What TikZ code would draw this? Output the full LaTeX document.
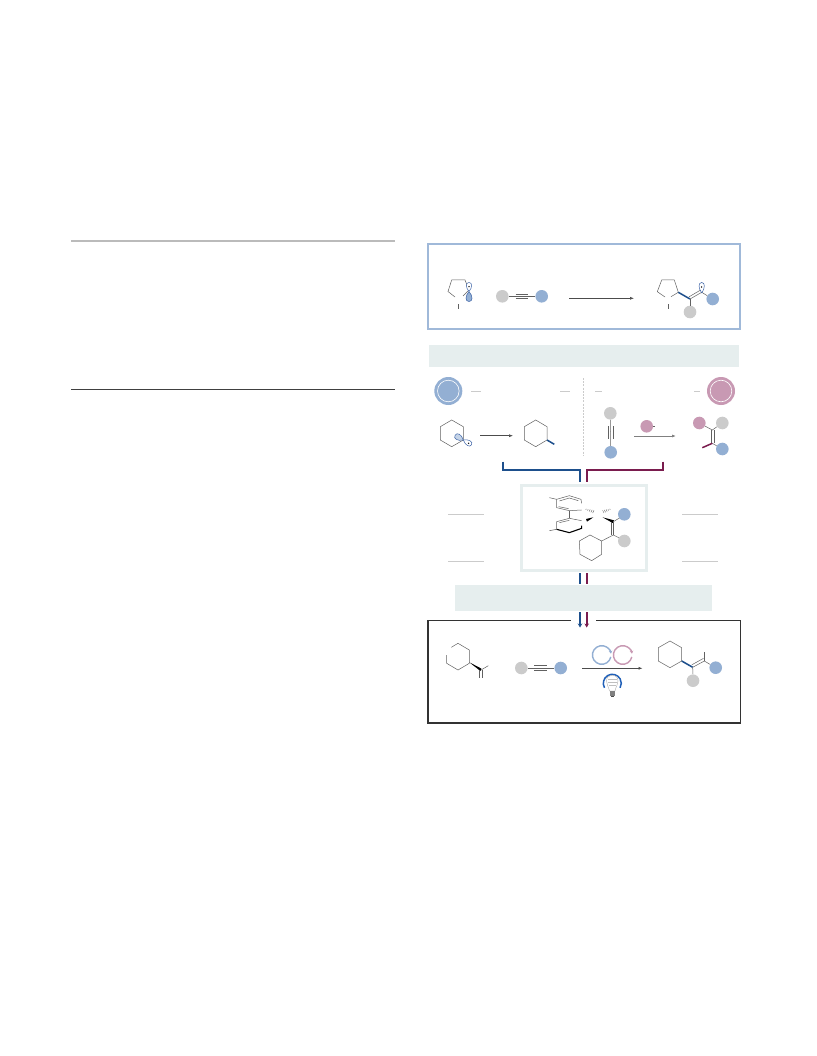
\documentclass[tikz,border=0pt]{standalone}
\usetikzlibrary{arrows.meta,calc}
\definecolor{bluec}{HTML}{93AFD3}
\definecolor{greyc}{HTML}{CBCBCB}
\definecolor{pinkc}{HTML}{C899B3}
\definecolor{bandc}{HTML}{E6EEEE}
\definecolor{navy}{HTML}{1D4F8C}
\definecolor{wine}{HTML}{7A1C4E}
\definecolor{boxblue}{HTML}{A0B9D9}
\definecolor{orb}{HTML}{3F65A8}
\definecolor{rule}{HTML}{BBBBBB}
\definecolor{bulbblue}{HTML}{2060B8}
\tikzset{
  sub/.style={circle,inner sep=0pt,minimum size=12.6pt,draw=none},
  gsub/.style={sub,fill=greyc},
  bsub/.style={sub,fill=bluec},
  psub/.style={sub,fill=pinkc},
  bondl/.style={draw=black!62,line width=.5pt},
  boldblue/.style={draw=navy,line width=1.5pt},
  boldwine/.style={draw=wine,line width=1.5pt},
  rxn/.style={draw=black!70,line width=.6pt,-{Latex[length=4pt,width=3pt]}},
  brk/.style={line width=1.7pt,line cap=butt,line join=miter},
  dashrule/.style={draw=greyc,line width=.9pt},
  catal/.style={circle,inner sep=0pt,minimum size=28pt,draw=none},
  orbfill/.style={draw=orb,fill=bluec,line width=.5pt},
  orbopen/.style={draw=orb,fill=white,line width=.5pt}
}
\newcommand{\lobe}[6]{\path[#6,shift={(#1,#2)},rotate=#3] (0,0) .. controls ({#4*.45},{-#5}) and (#4,{-#5}) .. (#4,0) .. controls (#4,#5) and ({#4*.45},#5) .. (0,0);}
\newcommand{\sdot}[2]{\fill[black] (#1,#2) circle[radius=.75];}
\begin{document}
\begin{tikzpicture}[x=1pt,y=-1pt]
\useasboundingbox (0,0) rectangle (816,1056);
\fill[white] (0,0) rectangle (816,1056);
% left column rules
\draw[rule,line width=1.5pt] (71,241) -- (395,241);
\draw[black!75,line width=1pt] (71,389.5) -- (395,389.5);
% top box
\draw[boxblue,line width=1.8pt] (428,244.3) rectangle (740,329);
\draw[bondl] (455,297) -- (448,291.5) -- (451.7,280) -- (465,280) -- (469,290) -- (463,296);
\draw[bondl] (458.3,304) -- (458.3,309);
\lobe{469}{291.5}{90}{9}{3.5}{orbopen}
\lobe{469}{291.5}{-90}{10}{4}{orbfill}
\sdot{469}{286.7}
\node[gsub] (a1) at (502.3,296.3) {};
\node[bsub] (a2) at (541.7,296.3) {};
\draw[bondl] (a1) -- (a2);
\draw[bondl] (515.7,294) -- (528.3,294) (515.7,298.6) -- (528.3,298.6);
\coordinate (r1s) at (569,298.3); \coordinate (r1e) at (634,298.3);
\draw[rxn] (r1s) -- (r1e);
\draw[bondl] (665,297) -- (657.3,291.7) -- (661.7,280) -- (674.3,280) -- (678.3,292.3) -- (671,296.7);
\draw[bondl] (668,304) -- (668,309);
\draw[boldblue] (678.3,292.3) -- (690,299);
\node[gsub] (p1) at (690,312) {};
\node[bsub] (p2) at (712.7,299) {};
\draw[bondl] (690,299) -- (p1);
\draw[bondl] (690,299) -- (701.7,292.3) (689,296.8) -- (700.7,290);
\draw[bondl] (701.7,292.3) -- (p2);
\lobe{701.7}{293}{90}{10.5}{3.5}{draw=orb,fill=none,line width=.5pt}
\sdot{701.7}{287}
% band 1
\fill[bandc] (429,344.7) rectangle (739,366.7);
% catalysts
\node[catal,fill=bluec] (c1) at (448.3,391) {};
\draw[white,line width=.6pt] (c1) circle[radius=10.8];
\node[catal,fill=pinkc] (c2) at (721,391) {};
\draw[white,line width=.6pt] (c2) circle[radius=10.8];
\draw[dashrule] (471,391) -- (481,391) (560.3,391) -- (570,391) (595.3,391) -- (602,391) (694,391) -- (700,391);
\draw[greyc,line width=.7pt,dash pattern=on 2pt off 1.2pt] (583.3,378) -- (583.3,455);
% radical left
\draw[bondl] (451.7,420) -- (463.3,426.7) -- (463.3,440) -- (451.7,446.7) -- (440.3,440) -- (440.3,426.7) -- cycle;
\lobe{463.3}{440}{150}{9.5}{4}{draw=orb,fill=bluec!55,line width=.5pt}
\lobe{463.3}{440}{-30}{9.5}{3.6}{draw=orb,fill=white,line width=.5pt}
\sdot{468.6}{443.3}
\coordinate (r2s) at (480,435.7); \coordinate (r2e) at (513,435.7);
\draw[rxn] (r2s) -- (r2e);
\draw[bondl] (535.7,420) -- (547,426.7) -- (547,440) -- (535.7,446.7) -- (524.3,440) -- (524.3,426.7) -- cycle;
\draw[boldblue] (547,440) -- (554.3,444.3);
% alkyne vertical
\node[gsub] (v1) at (610.3,413.3) {};
\node[bsub] (v2) at (610.7,452.3) {};
\draw[bondl] (v1) -- (v2);
\draw[bondl] (608.2,426) -- (608.2,439.3) (613.2,426) -- (613.2,439.3);
\node[psub] (q1) at (646.7,426.3) {};
\coordinate (q1e) at (655,426.3);
\draw[bondl] (q1) -- (q1e);
\coordinate (r3s) at (634,436); \coordinate (r3e) at (676,436);
\draw[draw=black!50,line width=1pt,-{Latex[length=4pt,width=3pt]}] (r3s) -- (r3e);
\node[psub] (s1) at (699.3,423) {};
\node[gsub] (s2) at (722.3,423) {};
\node[bsub] (s3) at (722.3,449) {};
\draw[bondl] (s1) -- (712.3,430) -- (s2);
\draw[bondl] (711,430) -- (711,443.3) (714,430) -- (714,443.3);
\draw[bondl] (712.3,443.3) -- (s3);
\draw[boldwine] (712.3,443.3) -- (702.3,447.7);
% brackets
\draw[navy,brk] (503.3,461.7) -- (503.3,470) -- (580,470) -- (580,482);
\draw[wine,brk] (662.7,461.7) -- (662.7,470) -- (586.7,470) -- (586.7,482);
% centre box
\draw[bandc,line width=3pt] (521,485) rectangle (646.5,570);
% biaryl (px = 510+x/3, 460+y/3)
\begin{scope}[shift={(510,460)},x=.3333pt,y=-.3333pt]
\draw[bondl] (118,113) -- (140,118) -- (178,107) -- (213,118) -- (215,130);
\draw[bondl] (140,118) -- (140,143) -- (178,152) -- (215,150);
\draw[bondl] (148,123) -- (178,114) -- (205,122);
\draw[bondl] (146,140) -- (176,146);
\draw[bondl] (178,152) -- (178,175);
\draw[bondl] (118,212) -- (140,208) -- (140,185) -- (178,175) -- (215,182);
\draw[bondl] (148,188) -- (178,181);
\draw[black,line width=1.1pt] (140,208) -- (178,218) -- (215,205) -- (215,197);
% hashed wedges
\foreach \t/\w in {0/1.5,.25/2,.5/3,.75/3.5,1/4}{
  \draw[black!60,line width=.4pt] ($(228,148)!\t!(250,155)+(-\w*.5,\w)$) -- ($(228,148)!\t!(250,155)+(\w*.5,-\w)$);
  \draw[black!60,line width=.4pt] ($(300,148)!\t!(280,155)+(\w*.5,\w)$) -- ($(300,148)!\t!(280,155)+(-\w*.5,-\w)$);
}
% solid wedges
\fill[black] (250,172) -- (228,177) -- (231,185) -- cycle;
\fill[black] (278,172) -- (312,181) -- (308,189) -- cycle;
% alkene
\draw[bondl] (304,185) -- (304,225) (311,185) -- (311,225);
\draw[bondl] (310,185) -- (330,173);
\draw[bondl] (310,225) -- (330,235);
\draw[bondl] (310,225) -- (275,243);
\draw[bondl] (275,243) -- (275,283) -- (245,302) -- (210,283) -- (208,243) -- (240,225) -- cycle;
\end{scope}
\node[bsub] (m1) at (624.3,514.3) {};
\node[gsub] (m2) at (624.3,541) {};
% side rules
\draw[greyc,line width=.9pt] (448.3,514.3) -- (484,514.3) (448.3,561.7) -- (484,561.7) (682,514.3) -- (718,514.3) (682,561.7) -- (718,561.7);
% stubs
\draw[navy,brk] (580,573.3) -- (580,583.7);
\draw[wine,brk] (586.7,573.3) -- (586.7,583.7);
% band 2
\fill[bandc] (455,584.7) rectangle (712,610.7);
% arrows
\draw[navy,brk,-{Stealth[length=4pt,width=4.5pt]}] (580,612.3) -- (580,627.5);
\draw[wine,brk,-{Stealth[length=4pt,width=4.5pt]}] (586.7,612.3) -- (586.7,627.5);
% bottom box
\draw[black!80,line width=1.2pt] (570.7,620.7) -- (427.9,620.7) -- (427.9,723) -- (740.5,723) -- (740.5,620.7) -- (596,620.7);
% substrate
\draw[bondl] (451.3,647.3) -- (458,643.3) -- (469.3,650) -- (469.3,663.3) -- (458,670) -- (446.7,663.3) -- (446.7,655);
\fill[black] (469.3,662.3) -- (481.4,668.6) -- (480.4,671) -- cycle;
\draw[bondl] (481,670) -- (488.3,665.7);
\draw[bondl] (479.7,670) -- (479.7,678.3) (482.2,670) -- (482.2,678.3);
\node[gsub] (b1) at (521.3,668) {};
\node[bsub] (b2) at (560.7,668) {};
\draw[bondl] (b1) -- (b2);
\draw[bondl] (534,665.7) -- (547.3,665.7) (534,670.3) -- (547.3,670.3);
\coordinate (r4s) at (582.3,668.3); \coordinate (r4e) at (642.5,668.3);
\draw[rxn] (r4s) -- (r4e);
% cycles
\coordinate (cb) at (601.7,655); \coordinate (cp) at (622.7,655);
\draw[bluec,line width=1.4pt,-{Stealth[length=3pt,width=3.5pt]}] (cb) ++(12:9.3) arc[start angle=12,end angle=352,radius=9.3];
\draw[pinkc,line width=1.4pt,-{Stealth[length=3pt,width=3.5pt]}] (cp) ++(12:9.3) arc[start angle=12,end angle=352,radius=9.3];
% bulb
\coordinate (bc) at (612.3,683.3);
\draw[bulbblue,line width=1.5pt] (bc) ++(150:9) arc[start angle=150,end angle=390,radius=9];
\fill[white,draw=black!35,line width=.35pt] (609.5,691) .. controls (608.5,686) and (606.5,685) .. (606.5,681) .. controls (606.5,677) and (609,675.5) .. (612.3,675.5) .. controls (615.6,675.5) and (618,677) .. (618,681) .. controls (618,685) and (616,686) .. (615,691) -- cycle;
\draw[black!25,line width=.35pt] (608,679) -- (616.6,679) (607.5,682) -- (617,682) (608.5,685) -- (616,685);
\fill[black!50] (609.8,691) rectangle (614.8,695.5);
\fill[black!70] (611,695.5) rectangle (613.6,697);
% product
\draw[bondl] (670,641) -- (681.7,647.7) -- (681.7,661) -- (670,667.7) -- (658.3,661) -- (658.3,647.7) -- cycle;
\draw[boldblue] (681.7,661) -- (692.7,667.3);
\node[gsub] (e1) at (693,680.7) {};
\node[bsub] (e2) at (715.7,667.7) {};
\draw[bondl] (692.7,667.3) -- (e1);
\draw[bondl] (692.7,667.3) -- (704.3,661) (691.8,664.8) -- (703.4,658.4);
\draw[bondl] (704.3,661) -- (704.3,651.7);
\draw[bondl] (704.3,661) -- (e2);
\end{tikzpicture}
\end{document}
